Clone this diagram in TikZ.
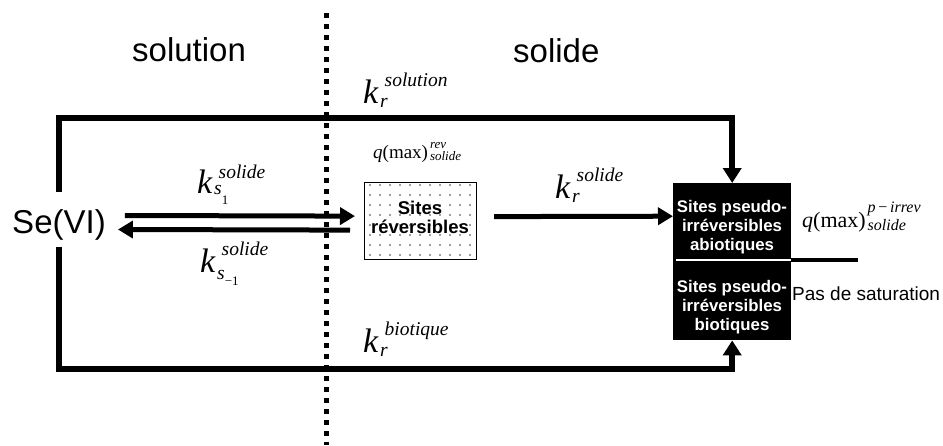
\documentclass[tikz,border=0pt]{standalone}
\usepackage{fontspec}
\setmainfont{Liberation Sans}
\newfontfamily\tnr{Liberation Serif}
\usetikzlibrary{arrows.meta,patterns.meta,calc}

\newcommand{\fs}[1]{\fontsize{#1}{#1}\selectfont}
% rate constant k: #1 superscript, #2 subscript, #3 raise of superscript, #4 drop of subscript
\newcommand{\krate}[4]{{\tnr\itshape
  \rlap{\fs{34}k}%
  \rlap{\hspace{17pt}\raisebox{-#4}{\fs{19.5}#2}}%
  \hspace{21.5pt}\raisebox{#3}{\fs{19.5}#1}}}
% maximum capacity q(max): #1 size, #2 script size, #3 sup, #4 sub, #5 raise, #6 drop
\newcommand{\qmax}[6]{{\tnr\fs{#1}\textit{q}(max)\hspace{2pt}%
  \rlap{\raisebox{#5}{\fs{#2}\itshape #3}}%
  \raisebox{-#6}{\fs{#2}\itshape #4}}}

\tikzset{
  conn/.style={line width=5.5pt},
  arr/.style={line width=5pt, -{Triangle[length=15pt,width=17pt]}},
  arrc/.style={conn, -{Triangle[length=15pt,width=18pt]}},
  big/.style={font=\fs{33}, inner sep=0pt},
  lbl/.style={inner sep=0pt, anchor=base west},
  blk/.style={fill=black, draw=none, minimum width=118pt, inner sep=0pt, anchor=north west},
  wtxt/.style={text=white, inner sep=0pt, align=center, font=\bfseries\fontsize{16.8}{19}\selectfont},
}

\begin{document}
\begin{tikzpicture}[x=1pt, y=-1pt]
  \fill[white] (0,0) rectangle (943,445);
  \useasboundingbox (0,0) rectangle (943,445);

  % phase headings
  \node[big, anchor=base west] (solu) at (132,61.5) {solution};
  \node[big, anchor=base west] (soli) at (513,62) {solide};

  % species in solution
  \node[big, anchor=base, text height=41pt, text depth=14pt] (Se) at (59,233) {Se(VI)};

  % reversible sites
  \node[draw, line width=1.2pt, pattern={Dots[distance=10pt,radius=0.8pt]}, pattern color=black!75,
        minimum width=112pt, minimum height=77pt, inner sep=0pt, anchor=north west] (rev) at (364,182) {};
  \node[inner sep=0pt, align=center, font=\bfseries\fontsize{18.5}{18.5}\selectfont] (revT) at (420,217.3) {Sites\\réversibles};

  % pseudo-irreversible sites
  \node[blk, minimum height=77pt] (abio) at (673,183) {};
  \node[blk, minimum height=80pt] (bio) at (673,260) {};
  \draw[white, line width=2.5pt] ($(bio.north west)+(3,0)$) -- (bio.north east);
  \node[wtxt] (abioT) at (732,226.7) {Sites pseudo-\\irréversibles\\abiotiques};
  \node[wtxt] (bioT) at (732,306.7) {Sites pseudo-\\irréversibles\\biotiques};
  \draw[line width=4pt] (bio.north east) -- ++(67,0);

  % capacities
  \node[lbl] (qrev) at (373,158) {\qmax{19}{13}{rev}{solide}{10pt}{2pt}};
  \node[lbl] (qirr) at (802,227) {\qmax{22}{16}{p\,{\upshape −}\,irrev}{solide}{15pt}{3pt}};
  \node[lbl, font=\fs{19}] (pas) at (792,300) {Pas de saturation};

  % connectors
  \draw[arrc] (Se.north) -- (Se.north |- 0,118) -| (abio.north);
  \draw[arrc] (Se.south) -- (Se.south |- 0,369) -| (bio.south);
  \draw[arr] ($(Se.east)+(19,-4)$) -- ($(rev.west)+(-9,-5)$);
  \draw[arr] ($(rev.west)+(-14,9)$) -- ($(Se.east)+(12,10)$);
  \draw[arr] ($(rev.east)+(17,-4.5)$) -- ($(abio.west)+(0,-5.5)$);

  % rate constants
  \node[lbl] (ksol) at (363,103) {\krate{solution}{r}{17pt}{4pt}};
  \node[lbl] (ks1) at (197,193) {\krate{solide}{s\raisebox{-10pt}{\upshape\fs{13}1}}{15pt}{1pt}};
  \node[lbl] (ksm1) at (200,272) {\krate{solide}{s\raisebox{-6pt}{\upshape\fs{13}−1}}{17pt}{7pt}};
  \node[lbl] (krs) at (555,198) {\krate{solide}{r}{17pt}{4pt}};
  \node[lbl] (kbio) at (363,352) {\krate{biotique}{r}{17pt}{4pt}};

  % solution / solid boundary
  \draw[line width=5pt, dash pattern=on 5pt off 6pt] (326,13) -- (326,445);
\end{tikzpicture}
\end{document}
